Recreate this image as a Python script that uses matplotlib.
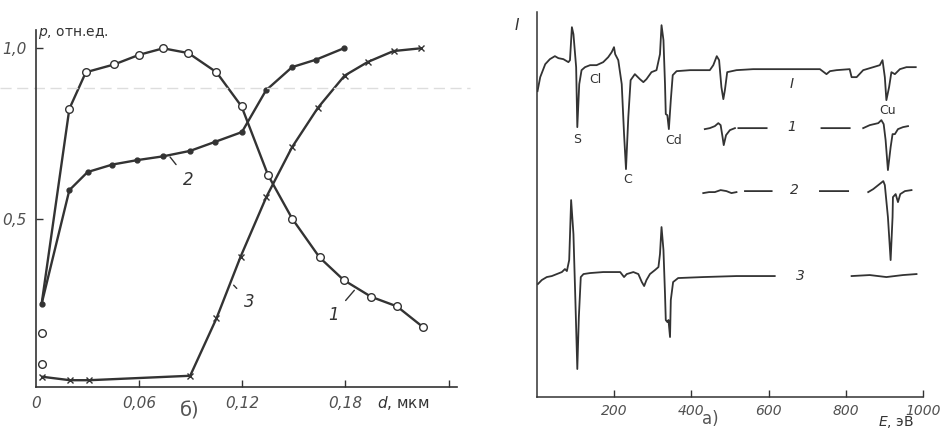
import numpy as np
import matplotlib
matplotlib.use("Agg")
import matplotlib.pyplot as plt

plt.rcParams['font.family'] = ['DejaVu Sans']

# ---- panel б): p vs film thickness d ----
d1 = [0.0033, 0.0035, 0.0194, 0.029, 0.0456, 0.060, 0.074, 0.0887, 0.105, 0.1196,
      0.135, 0.149, 0.165, 0.179, 0.195, 0.210, 0.225]
p1 = [0.167, 0.076, 0.823, 0.93, 0.953, 0.981, 1.0, 0.986, 0.93, 0.83,
      0.629, 0.502, 0.388, 0.322, 0.273, 0.245, 0.185]

d2 = [0.0033, 0.0194, 0.030, 0.0445, 0.059, 0.074, 0.0897, 0.104, 0.1198,
      0.1338, 0.149, 0.163, 0.179]
p2 = [0.253, 0.585, 0.638, 0.66, 0.673, 0.684, 0.70, 0.726, 0.755,
      0.877, 0.945, 0.967, 1.0]

d3 = [0.0037, 0.0198, 0.031, 0.0897, 0.105, 0.119, 0.134, 0.149, 0.164,
      0.1795, 0.193, 0.208, 0.2237]
p3 = [0.039, 0.029, 0.029, 0.042, 0.21, 0.39, 0.565, 0.711, 0.826,
      0.92, 0.96, 0.992, 1.0]

# ---- panel а): Auger spectra, E in eV, intensity in arb. units ----
E_I = [2, 9, 22, 34, 47, 56, 69, 82, 86, 91, 95, 102, 105, 110, 116, 125, 138, 155, 172,
       185, 194, 200, 203, 211, 220, 226, 231, 237, 243, 254, 267, 276, 284, 297, 310,
       319, 323, 328, 332, 334, 338, 342, 347, 352, 362, 397, 431, 448, 457, 466, 472,
       478, 483, 487, 493, 517, 560, 603, 647, 690, 733, 750, 759, 776, 810, 815, 828,
       845, 871, 888, 895, 901, 905, 912, 918, 927, 940, 957, 981]
I_I = [306, 320, 333, 338, 341, 339, 338, 335, 337, 370, 363, 330, 270, 313, 327, 330,
       332, 332, 335, 340, 345, 350, 343, 337, 313, 263, 228, 280, 317, 323, 318, 315,
       318, 325, 327, 343, 372, 357, 313, 283, 282, 268, 297, 322, 326, 327, 327, 327,
       332, 341, 337, 310, 298, 307, 325, 327, 328, 328, 328, 328, 328, 323, 326, 327,
       328, 320, 320, 327, 330, 332, 337, 320, 297, 310, 325, 323, 328, 330, 330]

E_1 = [435, 448, 461, 470, 476, 481, 484, 490, 500, 513, np.nan, 522, 595, np.nan,
       737, 810, np.nan, 845, 862, 884, 892, 898, 903, 909, 916, 921, 927, 935, 948, 961]
I_1 = [268, 269, 271, 274, 272, 260, 252, 262, 267, 269, np.nan, 269, 269, np.nan,
       269, 269, np.nan, 269, 272, 274, 277, 273, 257, 227, 250, 263, 263, 268, 270, 271]

E_2 = [431, 446, 461, 476, 491, 504, 517, np.nan, 539, 608, np.nan, 733, 806, np.nan,
       858, 871, 884, 897, 901, 909, 916, 921, 922, 929, 935, 941, 953, 970]
I_2 = [204, 205, 205, 207, 206, 204, 205, np.nan, 206, 206, np.nan, 206, 206, np.nan,
       205, 208, 212, 216, 212, 180, 137, 180, 200, 203, 195, 203, 206, 207]

E_3 = [3, 13, 26, 39, 52, 65, 73, 78, 84, 89, 95, 100, 105, 109, 114, 121, 138, 172,
       216, 226, 233, 250, 263, 272, 278, 284, 293, 306, 315, 319, 323, 328, 332, 334,
       338, 341, 345, 347, 353, 366, 431, 517, 616, np.nan, 815, 862, 905, 948, 983]
I_3 = [113, 117, 120, 121, 123, 125, 128, 126, 137, 197, 163, 97, 28, 80, 120, 123,
       124, 125, 125, 120, 123, 125, 123, 115, 111, 117, 123, 127, 130, 143, 170, 147,
       103, 77, 75, 77, 60, 97, 115, 119, 120, 121, 121, np.nan, 121, 122, 120, 122, 123]

peak_labels = ["Cl", "S", "C", "Cd", "Cu"]
peak_E = [151, 105, 235, 355, 909]
peak_I = [318, 258, 218, 257, 287]

spec_labels = ["I", "1", "2", "3"]
spec_E = [660, 660, 667, 682]
spec_I = [313, 270, 207, 121]

ink = "#333333"
txt = "#505050"

fig = plt.figure(figsize=(9.4, 4.29), dpi=100)

# ---------- left panel ----------
ax1 = fig.add_axes([0.0383, 0.0986, 0.448, 0.831])
ax1.plot([d2[0]] + d1[2:], [p2[0]] + p1[2:], color=ink, lw=1.7)
ax1.plot(d1, p1, 'o', ms=5.5, mfc='white', mec=ink, mew=1.0)
ax1.plot(d2, p2, color=ink, lw=1.7, marker='o', ms=3.5, mfc=ink, mec=ink)
ax1.plot(d3, p3, color=ink, lw=1.7, marker='x', ms=5, mew=1.0)
ax1.axhline(0.883, xmin=-0.085, xmax=1.03, color='#dddddd', lw=1, ls=(0, (8, 4)), clip_on=False)

ax1.set_xlim(0, 0.245)
ax1.set_ylim(0.01, 1.053)
ax1.set_xticks([0, 0.06, 0.12, 0.18, 0.24])
ax1.set_xticklabels(["0", "0,06", "0,12", "0,18", ""])
ax1.set_yticks([0.5, 1.0])
ax1.set_yticklabels(["0,5", "1,0"])
ax1.tick_params(direction='in', length=5, width=1, colors=ink, labelcolor=txt,
                labelsize=11, pad=7)
for lab in ax1.get_xticklabels() + ax1.get_yticklabels():
    lab.set_fontstyle('italic')
ax1.xaxis.get_major_ticks()[0].tick1line.set_visible(False)
for s in ['top', 'right']:
    ax1.spines[s].set_visible(False)
for s in ['left', 'bottom']:
    ax1.spines[s].set_color(ink)
    ax1.spines[s].set_linewidth(1.2)

ax1.annotate("2", xy=(0.078, 0.682), xytext=(0.0887, 0.614), fontsize=12,
             style='italic', color=ink, ha='center', va='center',
             arrowprops=dict(arrowstyle='-', color=ink, lw=1, shrinkA=5, shrinkB=0))
ax1.annotate("3", xy=(0.115, 0.307), xytext=(0.1243, 0.258), fontsize=12,
             style='italic', color=ink, ha='center', va='center',
             arrowprops=dict(arrowstyle='-', color=ink, lw=1, shrinkA=5, shrinkB=0))
ax1.annotate("1", xy=(0.1852, 0.292), xytext=(0.1728, 0.219), fontsize=12,
             style='italic', color=ink, ha='center', va='center',
             arrowprops=dict(arrowstyle='-', color=ink, lw=1, shrinkA=5, shrinkB=0))

ax1.text(0.005, 0.99, "$p$, отн.ед.", transform=ax1.transAxes, fontsize=10,
         color=ink, ha='left', va='center')
ax1.text(0.81, -0.046, "$d$, мкм", transform=ax1.transAxes, fontsize=11,
         color=ink, ha='left', va='center')
ax1.text(0.366, -0.068, "б)", transform=ax1.transAxes, fontsize=14,
         color='#555555', ha='center', va='center')

# ---------- right panel ----------
ax2 = fig.add_axes([0.571, 0.0746, 0.411, 0.897])
for E, I in [(E_I, I_I), (E_1, I_1), (E_2, I_2), (E_3, I_3)]:
    ax2.plot(E, I, color=ink, lw=1.3)
for lab, e, i in zip(peak_labels, peak_E, peak_I):
    ax2.text(e, i, lab, fontsize=9, color=ink, ha='center', va='center')
for lab, e, i in zip(spec_labels, spec_E, spec_I):
    ax2.text(e, i, lab, fontsize=10, style='italic', color=ink, ha='center', va='center')

ax2.set_xlim(0, 1000)
ax2.set_ylim(0, 385)
ax2.set_xticks([200, 400, 600, 800, 1000])
ax2.set_xticklabels(["200", "400", "600", "800", "1000"])
ax2.set_yticks([])
ax2.tick_params(axis='x', direction='in', length=5, width=1, colors=ink,
                labelcolor=txt, labelsize=10, pad=5)
for lab in ax2.get_xticklabels():
    lab.set_fontstyle('italic')
for s in ['top', 'right']:
    ax2.spines[s].set_visible(False)
for s in ['left', 'bottom']:
    ax2.spines[s].set_color(ink)
    ax2.spines[s].set_linewidth(1.1)

ax2.text(-0.052, 0.966, "I", transform=ax2.transAxes, fontsize=11, style='italic',
         color=ink, ha='center', va='center')
ax2.text(0.93, -0.064, "$E$, эВ", transform=ax2.transAxes, fontsize=10,
         color=ink, ha='center', va='center')
ax2.text(0.448, -0.058, "а)", transform=ax2.transAxes, fontsize=12,
         color='#555555', ha='center', va='center')

fig.savefig("out.png", dpi=100, facecolor='white')
